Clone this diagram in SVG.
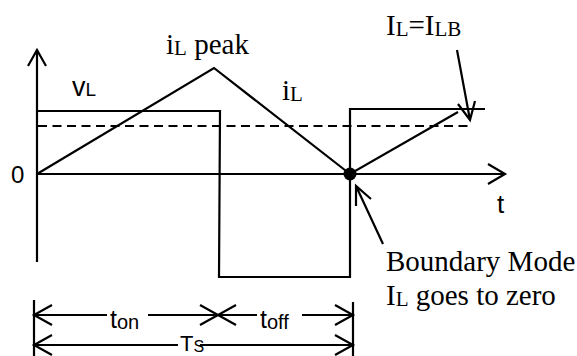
<svg xmlns="http://www.w3.org/2000/svg" width="577" height="356" viewBox="0 0 577 356">
<style>
.ln{fill:none;stroke:#000;stroke-width:2.2;stroke-linejoin:miter;stroke-linecap:butt}
.dash{fill:none;stroke:#000;stroke-width:2.2;stroke-dasharray:9 5.5}
.serif{font-family:"Liberation Serif","Times New Roman",serif;font-size:29px;fill:#000}
.sans{font-family:"Liberation Sans",Arial,sans-serif;fill:#000}
</style>
<rect width="577" height="356" fill="#fff"/>
<g id="axes">
<path class="ln" d="M37,262 V51 M28,66 L37,50 L46,66"/>
<path class="ln" d="M37,174 H505 M488,164 L505,174 L488,184"/>
<text class="sans" x="11" y="183" font-size="24">0</text>
<text class="sans" x="497" y="213" font-size="26">t</text>
</g>
<g id="vL">
<path class="ln" d="M37,111 H220 L219,277 H350 V109 H485"/>
<text class="sans" x="72" y="96" font-size="27">v<tspan font-size="19">L</tspan></text>
</g>
<g id="dashed">
<path class="dash" d="M38,126 H470"/>
</g>
<g id="iL">
<path class="ln" d="M37,174 L214,68 L350,174 L458,112"/>
<circle cx="350" cy="174" r="6.5" fill="#000"/>
<text class="serif" x="166" y="54">i<tspan font-size="21" dy="1">L</tspan><tspan dy="-1"> peak</tspan></text>
<text class="serif" x="282" y="100">i<tspan font-size="21" dy="1">L</tspan></text>
</g>
<g id="ILB">
<text class="serif" x="386" y="35">I<tspan font-size="21" dy="1">L</tspan><tspan dy="-1">=I</tspan><tspan font-size="21" dy="1">LB</tspan></text>
</g>
<g id="boundary">
<text class="serif" x="386" y="271">Boundary Mode</text>
<text class="serif" x="386" y="305">I<tspan font-size="21" dy="1">L</tspan><tspan dy="-1"> goes to zero</tspan></text>
</g>
<g id="connectors">
<path class="ln" d="M457,50 L470,120 M458,104 L470,120 L475,101"/>
<path class="ln" d="M383,244 L356,186 M356,206 L356,186 L371,199"/>
</g>
<g id="timing">
<path class="ln" d="M34,300 V356 M353,302 V356"/>
<path class="ln" d="M34,315 H107 M148,315 H257 M302,315 H353"/>
<path class="ln" d="M52,305 L34,315 L52,325 M200,305 L218,315 L200,325 M236,305 L218,315 L236,325 M335,305 L353,315 L335,325"/>
<path class="ln" d="M34,345 H178 M200,345 H353 M52,335 L34,345 L52,355 M335,335 L353,345 L335,355"/>
<text class="sans" x="110" y="328" font-size="25">t<tspan font-size="20" dy="1">on</tspan></text>
<text class="sans" x="260" y="328" font-size="25">t<tspan font-size="20" dy="1">off</tspan></text>
<text class="sans" x="180" y="351" font-size="22">T<tspan font-size="16" dy="1">S</tspan></text>
</g>
</svg>
